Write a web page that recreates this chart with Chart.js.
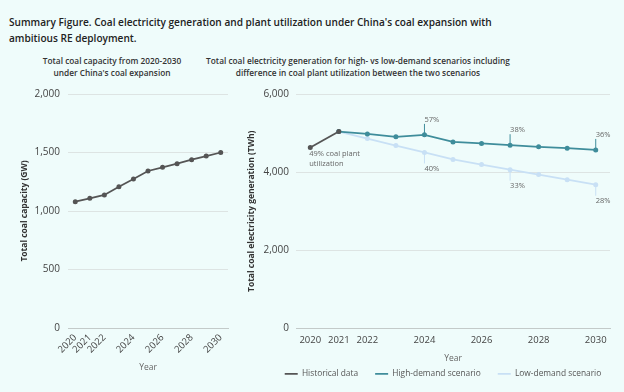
<!DOCTYPE html>
<html lang="en">
<head>
<meta charset="UTF-8">
<title>Coal electricity generation and plant utilization</title>
<script src="https://cdn.jsdelivr.net/npm/chart.js@4"></script>
<style>
  html, body { margin: 0; padding: 0; }
  body {
    width: 624px; height: 392px; position: relative; overflow: hidden;
    background: #effcfb; font-family: 'Open Sans', sans-serif;
  }
  .title {
    position: absolute; left: 9px; top: 14px; width: 610px;
    font-size: 10.1px; font-weight: 600; line-height: 16px; color: #222;
  }
  .sub {
    position: absolute; top: 55px; font-size: 8.3px; font-weight: 600;
    line-height: 12px; color: #333; text-align: center;
  }
  canvas { position: absolute; top: 80px; }
</style>
</head>
<body>

<div class="title">Summary Figure. Coal electricity generation and plant utilization under China's coal expansion with<br>ambitious RE deployment.</div>
<div class="sub" style="left:12px; width:200px;">Total coal capacity from 2020-2030<br>under China's coal expansion</div>
<div class="sub" style="left:188px; width:340px;">Total coal electricity generation for high- vs low-demand scenarios including<br>difference in coal plant utilization between the two scenarios</div>

<canvas id="capacityChart" width="235" height="312" style="left:0;"></canvas>
<canvas id="generationChart" width="416" height="312" style="left:235px;"></canvas>

<script>
// data
var years = ['2020', '2021', '2022', '2023', '2024', '2025', '2026', '2027', '2028', '2029', '2030'];
var tickYears = ['2020', '2021', '2022', '2024', '2026', '2028', '2030'];
var capacityGW = [1080, 1108, 1137, 1208, 1274, 1342, 1373, 1404, 1439, 1470, 1500];
var historicalTWh = [4630, 5040, null, null, null, null, null, null, null, null, null];
var highDemandTWh = [null, 5040, 4980, 4905, 4955, 4775, 4735, 4690, 4650, 4615, 4570];
var lowDemandTWh = [null, 5040, 4860, 4680, 4505, 4325, 4195, 4065, 3940, 3810, 3680];
var seriesNames = ['Historical data', 'High-demand scenario', 'Low-demand scenario'];

// utilization notes
var noteYears = ['2024', '2027', '2030'];
var highNotes = ['57%', '38%', '36%'];
var lowNotes = ['40%', '33%', '28%'];
var histNote = ['49% coal plant', 'utilization'];

var grey = '#555555';
var teal = '#3f8d9b';
var pale = '#c8e0f5';
var gridColor = '#dde4e3';
var axisColor = '#c3cac9';

function yearTick(value) {
    var label = this.getLabelForValue(value);
    return tickYears.indexOf(label) >= 0 ? label : null;
}

// left chart: coal capacity
new Chart(document.getElementById('capacityChart'), {
    type: 'line',
    data: {
        labels: years,
        datasets: [{
            data: capacityGW,
            borderColor: grey,
            backgroundColor: grey,
            borderWidth: 1.8,
            pointRadius: 1.6,
            tension: 0
        }]
    },
    options: {
        responsive: false,
        animation: false,
        devicePixelRatio: 1,
        layout: { padding: { top: 14, right: 7, left: 0, bottom: 0 } },
        plugins: { legend: { display: false }, tooltip: { enabled: false } },
        scales: {
            x: {
                offset: true,
                grid: { display: false, drawTicks: false },
                border: { color: axisColor },
                ticks: {
                    autoSkip: false, minRotation: 45, maxRotation: 45, padding: 4,
                    color: '#444', font: { family: 'Open Sans', size: 9.5 },
                    callback: yearTick
                },
                title: {
                    display: true, text: 'Year', color: '#666',
                    font: { family: 'Open Sans', size: 8.5 },
                    padding: { top: 0, bottom: 19.5 }
                },
                afterFit: function (axis) { axis.height = 64; }
            },
            y: {
                min: 0, max: 2000,
                grid: { color: gridColor, drawTicks: false },
                border: { display: false },
                ticks: {
                    stepSize: 500, padding: 8, color: '#444',
                    font: { family: 'Open Sans', size: 10 }
                },
                title: {
                    display: true, text: 'Total coal capacity (GW)', color: '#333',
                    font: { family: 'Open Sans', size: 8.5, weight: 'bold' },
                    padding: { top: 19, bottom: 0 }
                },
                afterFit: function (axis) { axis.width = 68; }
            }
        }
    }
});

// draws the utilization notes next to the scenario points
var notePlugin = {
    id: 'utilNotes',
    afterDatasetsDraw: function (chart) {
        var ctx = chart.ctx;
        var hist = chart.getDatasetMeta(0).data;
        var hi = chart.getDatasetMeta(1).data;
        var lo = chart.getDatasetMeta(2).data;
        ctx.save();
        ctx.font = '7.5px "Open Sans"';
        ctx.textAlign = 'left';
        ctx.textBaseline = 'middle';
        ctx.lineWidth = 1;
        noteYears.forEach(function (yr, i) {
            var k = years.indexOf(yr);
            var p = hi[k], q = lo[k];
            ctx.strokeStyle = teal;
            ctx.beginPath(); ctx.moveTo(p.x, p.y); ctx.lineTo(p.x, p.y - 11); ctx.stroke();
            ctx.strokeStyle = pale;
            ctx.beginPath(); ctx.moveTo(q.x, q.y); ctx.lineTo(q.x, q.y + 11); ctx.stroke();
            ctx.fillStyle = '#666';
            ctx.fillText(highNotes[i], p.x, p.y - 15);
            ctx.fillText(lowNotes[i], q.x, q.y + 16.5);
        });
        var h = hist[0];
        ctx.fillText(histNote[0], h.x - 1, h.y + 6.5);
        ctx.fillText(histNote[1], h.x - 1, h.y + 16.5);
        ctx.restore();
    }
};

// right chart: generation by scenario
new Chart(document.getElementById('generationChart'), {
    type: 'line',
    data: {
        labels: years,
        datasets: [{
            label: seriesNames[0],
            data: historicalTWh,
            borderColor: grey, backgroundColor: grey,
            borderWidth: 1.8, pointRadius: 1.6
        }, {
            label: seriesNames[1],
            data: highDemandTWh,
            borderColor: teal, backgroundColor: teal,
            borderWidth: 1.8, pointRadius: 1.6
        }, {
            label: seriesNames[2],
            data: lowDemandTWh,
            borderColor: pale, backgroundColor: pale,
            borderWidth: 1.8, pointRadius: 1.6
        }]
    },
    options: {
        responsive: false,
        animation: false,
        devicePixelRatio: 1,
        layout: { padding: { top: 14, right: 0, left: 0, bottom: 4 } },
        plugins: {
            tooltip: { enabled: false },
            legend: {
                position: 'bottom',
                labels: {
                    usePointStyle: true, pointStyle: 'line', pointStyleWidth: 13,
                    boxHeight: 8, padding: 17, color: '#555',
                    font: { family: 'Open Sans', size: 8.4 }
                }
            }
        },
        scales: {
            x: {
                offset: true,
                grid: { display: false, drawTicks: false },
                border: { color: axisColor },
                ticks: {
                    autoSkip: false, maxRotation: 0, padding: 6, color: '#444',
                    font: { family: 'Open Sans', size: 9.5 },
                    callback: yearTick
                },
                title: {
                    display: true, text: 'Year', color: '#666',
                    font: { family: 'Open Sans', size: 8.5 },
                    padding: { top: 0, bottom: -11 }
                },
                afterFit: function (axis) { axis.height = 24; }
            },
            y: {
                min: 0, max: 6000,
                grid: { color: gridColor, drawTicks: false },
                border: { display: false },
                ticks: {
                    stepSize: 2000, padding: 7, color: '#444',
                    font: { family: 'Open Sans', size: 10 }
                },
                title: {
                    display: true, text: 'Total coal electricity generation (TWh)', color: '#333',
                    font: { family: 'Open Sans', size: 8.5, weight: 'bold' },
                    padding: { top: 11, bottom: 0 }
                },
                afterFit: function (axis) { axis.width = 61; }
            },
            // empty right-hand box, keeps the plot narrower than the legend row
            yPad: {
                position: 'right',
                ticks: { display: false },
                grid: { display: false, drawTicks: false },
                border: { display: false },
                afterFit: function (axis) { axis.width = 41; }
            }
        }
    },
    plugins: [notePlugin]
});
</script>
</body>
</html>
